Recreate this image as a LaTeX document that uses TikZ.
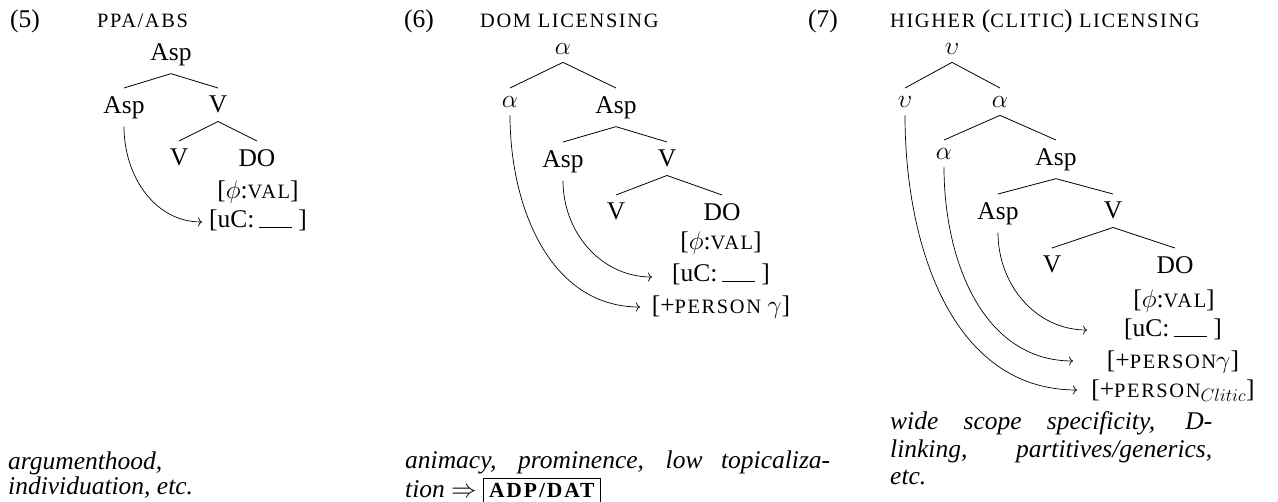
\RequirePackage{fix-cm}
\documentclass[tikz,border=0pt]{standalone}
\usepackage{fontspec}
\setmainfont{Liberation Serif}
\usetikzlibrary{arrows.meta}
\newcommand{\mfs}{\fontsize{25.5}{30}\selectfont}
\newcommand{\smc}[1]{{\fontsize{20.4}{24}\selectfont\addfontfeatures{LetterSpace=8}#1}}
\newcommand{\ucgap}{[uC:\hspace{5pt}\rule{33pt}{0.9pt}\hspace{6pt}]}
\setlength{\fboxsep}{5pt}
\setlength{\fboxrule}{0.9pt}
\tikzset{
  tn/.style={anchor=north, inner sep=8pt},
  ft/.style={anchor=base, inner sep=0pt},
  br/.style={line width=0.8pt},
  lic/.style={line width=0.7pt, -{To[length=4pt,width=9pt]}},
  lab/.style={anchor=base west, inner sep=0pt},
}
\begin{document}
\begin{tikzpicture}[x=1pt,y=-1pt,font=\mfs]
\useasboundingbox (0,0) rectangle (1278,502);
% ---------------- (5)
\node[lab] (n5) at (10,28) {(5)};
\node[lab] (t5) at (97,28) {\smc{PPA/ABS}};
\node[tn] (a5) at (171,35) {Asp};
\node[tn] (a5l) at (124,88) {Asp};
\node[tn] (a5r) at (218,88) {V};
\node[tn] (v5) at (179,141) {V};
\node[tn] (do5) at (257,141) {DO};
\node[ft] (phi5) at (258,199) {[$\phi$:\smc{VAL}]};
\node[ft] (uc5) at (258,228) {\ucgap};
\coordinate (tip5) at (202,222);
\draw[br] (a5.south) -- (a5l.north);
\draw[br] (a5.south) -- (a5r.north);
\draw[br] (a5r.south) -- (v5.north);
\draw[br] (a5r.south) -- (do5.north);
\draw[lic] (a5l.south) to[out=-90,in=180] (tip5);
% ---------------- (6)
\node[lab] (n6) at (404,28) {(6)};
\node[lab] (t6) at (480,28) {\smc{DOM LICENSING}};
\node[tn] (al6) at (563,35) {$\alpha$};
\node[tn] (al6l) at (510,88) {$\alpha$};
\node[tn] (as6) at (616,88) {Asp};
\node[tn] (as6l) at (563,142) {Asp};
\node[tn] (v6) at (667,142) {V};
\node[tn] (v6l) at (616,195) {V};
\node[tn] (do6) at (722,195) {DO};
\node[ft] (phi6) at (721,250) {[$\phi$:\smc{VAL}]};
\node[ft] (uc6) at (721,282) {\ucgap};
\node[ft] (ps6) at (721,314) {[+\smc{PERSON} $\gamma$]};
\coordinate (tip6a) at (652,277);
\coordinate (tip6b) at (640,307);
\draw[br] (al6.south) -- (al6l.north);
\draw[br] (al6.south) -- (as6.north);
\draw[br] (as6.south) -- (as6l.north);
\draw[br] (as6.south) -- (v6.north);
\draw[br] (v6.south) -- (v6l.north);
\draw[br] (v6.south) -- (do6.north);
\draw[lic] (as6l.south) to[out=-90,in=180] (tip6a);
\draw[lic] (al6l.south) to[out=-90,in=180] (tip6b);
% ---------------- (7)
\node[lab] (n7) at (808,28) {(7)};
\node[lab] (t7) at (890,28) {\smc{HIGHER} (\smc{CLITIC}) \smc{LICENSING}};
\node[tn] (u7) at (952,35) {$\upsilon$};
\node[tn] (u7l) at (905,88) {$\upsilon$};
\node[tn] (al7) at (1000,88) {$\alpha$};
\node[tn] (al7l) at (944,140) {$\alpha$};
\node[tn] (as7) at (1056,140) {Asp};
\node[tn] (as7l) at (998,194) {Asp};
\node[tn] (v7) at (1113,194) {V};
\node[tn] (v7l) at (1052,248) {V};
\node[tn] (do7) at (1175,248) {DO};
\node[ft] (phi7) at (1174,308) {[$\phi$:\smc{VAL}]};
\node[ft] (uc7) at (1173,337) {\ucgap};
\node[ft] (ps7) at (1173,369) {[+\smc{PERSON}$\gamma$]};
\node[ft] (cl7) at (1173,398) {[+\smc{PERSON}$_{Clitic}$]};
\coordinate (tip7a) at (1087,330);
\coordinate (tip7b) at (1073,361);
\coordinate (tip7c) at (1077,390);
\draw[br] (u7.south) -- (u7l.north);
\draw[br] (u7.south) -- (al7.north);
\draw[br] (al7.south) -- (al7l.north);
\draw[br] (al7.south) -- (as7.north);
\draw[br] (as7.south) -- (as7l.north);
\draw[br] (as7.south) -- (v7.north);
\draw[br] (v7.south) -- (v7l.north);
\draw[br] (v7.south) -- (do7.north);
\draw[lic] (as7l.south) to[out=-90,in=180] (tip7a);
\draw[lic] (al7l.south) to[out=-90,in=180] (tip7b);
\draw[lic] (u7l.south) to[out=-90,in=180] (tip7c);
% ---------------- bottom texts
\node[lab] (c5a) at (8,470) {\itshape argumenthood,};
\node[lab] (c5b) at (8,495) {\itshape individuation, etc.};
\node[lab] (c6a) at (405,469) {\makebox[425pt][s]{\itshape animacy, prominence, low topicaliza-}};
\node[lab] (c6b) at (405,498) {\itshape tion $\Rightarrow$ \fbox{\upshape\fontsize{21.5}{26}\selectfont\bfseries\addfontfeatures{LetterSpace=9}ADP/DAT}};
\node[lab] (c7a) at (890,430) {\makebox[322pt][s]{\itshape wide scope specificity, D-}};
\node[lab] (c7b) at (890,458) {\makebox[322pt][s]{\itshape linking, partitives/generics,}};
\node[lab] (c7c) at (890,485) {\itshape etc.};
\end{tikzpicture}
\end{document}
